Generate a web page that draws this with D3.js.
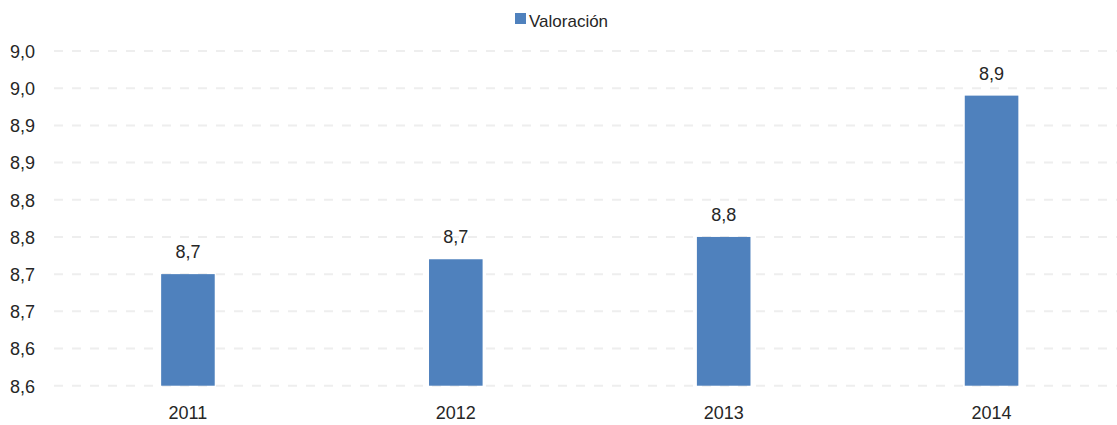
<!DOCTYPE html>
<html><head><meta charset="utf-8">
<script src="https://cdn.jsdelivr.net/npm/d3@7"></script>
<style>body{margin:0;background:#fff;} text{font-family:"Liberation Sans",Arial,sans-serif;fill:#262626;}</style>
</head><body>
<svg id="chart" width="1117" height="425"></svg>
<script>
const categories = ["2011","2012","2013","2014"];
const values = [8.70, 8.72, 8.75, 8.94];
const valueLabels = ["8,7","8,7","8,8","8,9"];
const tickValues = [8.55,8.60,8.65,8.70,8.75,8.80,8.85,8.90,8.95,9.00];
const tickLabels = ["8,6","8,6","8,7","8,7","8,8","8,8","8,9","8,9","9,0","9,0"];
const seriesName = "Valoración";

const svg = d3.select("#chart");
const x = d3.scaleBand().domain(categories).range([54, 1125.5]).paddingInner(0.8).paddingOuter(0.4);
const y = d3.scaleLinear().domain([8.55, 9.00]).range([385.7, 51]);

// gridlines
svg.append("g").selectAll("line").data(tickValues).join("line")
  .attr("x1", 54).attr("x2", 1117)
  .attr("y1", d => y(d)).attr("y2", d => y(d))
  .attr("stroke", "#eeeeee").attr("stroke-width", 2).attr("stroke-dasharray", "9,9");

// y axis
const yAxis = d3.axisLeft(y).tickValues(tickValues).tickSize(0).tickPadding(0)
  .tickFormat((d,i) => tickLabels[i]);
const gy = svg.append("g").attr("transform", "translate(35,0)").call(yAxis);
gy.select(".domain").remove();
gy.selectAll("text").attr("font-size", 18).attr("font-family", null).attr("fill", "#262626").attr("dy", "0.35em");

// bars
svg.append("g").selectAll("rect").data(values).join("rect")
  .attr("x", (d,i) => x(categories[i])).attr("width", x.bandwidth())
  .attr("y", d => y(d)).attr("height", d => y(8.55) - y(d))
  .attr("fill", "#4f81bd");

// data labels
svg.append("g").selectAll("text").data(values).join("text")
  .attr("x", (d,i) => x(categories[i]) + x.bandwidth()/2)
  .attr("y", d => y(d) - 16)
  .attr("text-anchor", "middle").attr("font-size", 18)
  .text((d,i) => valueLabels[i]);

// x axis
const xAxis = d3.axisBottom(x).tickSize(0).tickPadding(0);
const gx = svg.append("g").attr("transform", "translate(0,413)").call(xAxis);
gx.select(".domain").remove();
gx.selectAll("text").attr("font-size", 18).attr("font-family", null).attr("fill", "#262626").attr("dy", "0.35em");

// legend
const lg = svg.append("g");
lg.append("rect").attr("x", 515).attr("y", 13).attr("width", 11).attr("height", 11).attr("fill", "#4f81bd");
lg.append("text").attr("x", 529).attr("y", 21.5).attr("dy", "0.35em").attr("font-size", 17).text(seriesName);
</script>
</body></html>
